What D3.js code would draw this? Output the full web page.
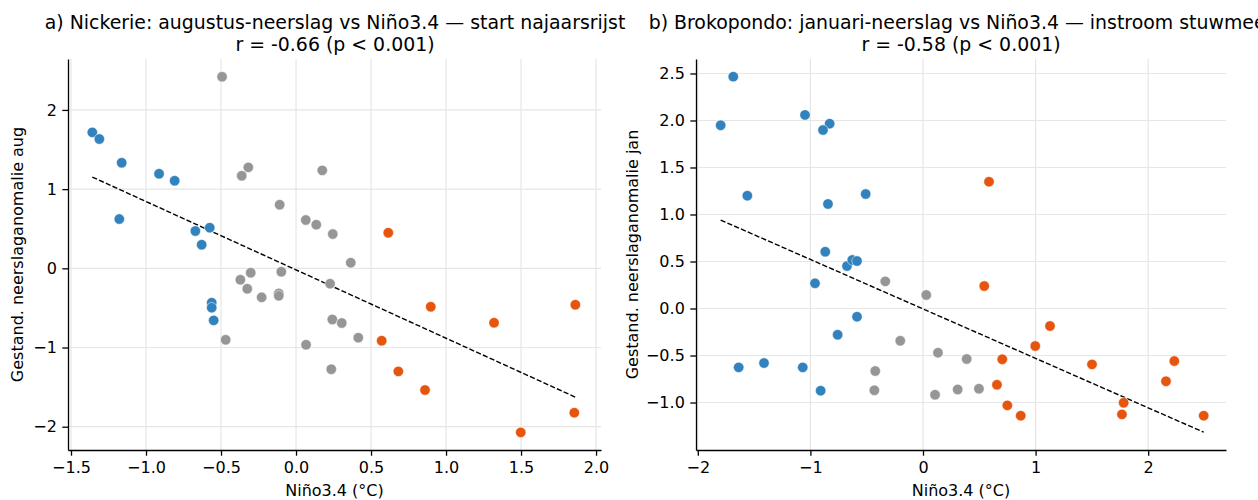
<!DOCTYPE html>
<html>
<head>
<meta charset="utf-8">
<script src="https://cdn.jsdelivr.net/npm/d3@7"></script>
<style>
  body { margin: 0; background: #fff; }
  svg text { font-family: "DejaVu Sans", sans-serif; fill: #000; }
</style>
</head>
<body>
<div id="chart"></div>
<script>
let width = 1258;
let height = 500;

// Panel a) Nickerie, August rainfall vs Nino3.4
let nickNino = [-1.358, -1.311, -1.162, -0.913, -0.809, -1.178, -0.671, -0.575, -0.629, -0.562, -0.562, -0.549,
    -0.493, -0.318, -0.362, 0.175, -0.109, 0.065, 0.135, 0.245, -0.371, -0.302, -0.325, -0.229,
    -0.098, -0.115, -0.115, -0.469, 0.067, 0.227, 0.242, 0.235, 0.365, 0.305, 0.415,
    0.615, 0.898, 0.571, 0.682, 0.860, 1.320, 1.862, 1.855, 1.498];
let nickRain = [1.717, 1.633, 1.333, 1.194, 1.106, 0.622, 0.471, 0.513, 0.298, -0.434, -0.497, -0.657,
    2.419, 1.275, 1.169, 1.237, 0.803, 0.610, 0.551, 0.433, -0.144, -0.056, -0.258, -0.366,
    -0.043, -0.316, -0.346, -0.902, -0.965, -0.194, -0.646, -1.274, 0.071, -0.691, -0.876,
    0.449, -0.485, -0.914, -1.301, -1.537, -0.687, -0.460, -1.823, -2.071];

// Panel b) Brokopondo, January rainfall vs Nino3.4
let brokNino = [-1.685, -1.797, -1.048, -0.829, -0.888, -1.560, -0.844, -0.509, -0.868, -0.675, -0.628, -0.586,
    -0.959, -0.586, -0.758, -1.637, -1.412, -1.068, -0.909,
    -0.335, 0.029, -0.202, 0.133, -0.424, -0.432, 0.107, 0.308, 0.388, 0.497,
    0.586, 0.544, 1.128, 0.997, 0.704, 0.657, 0.749, 0.868, 1.501, 1.782, 1.767, 2.232, 2.158, 2.493];
let brokRain = [2.466, 1.949, 2.059, 1.966, 1.899, 1.200, 1.112, 1.218, 0.604, 0.452, 0.516, 0.505,
    0.268, -0.087, -0.279, -0.626, -0.580, -0.626, -0.874,
    0.289, 0.144, -0.343, -0.470, -0.665, -0.870, -0.917, -0.861, -0.537, -0.853,
    1.349, 0.239, -0.186, -0.399, -0.540, -0.811, -1.030, -1.140, -0.594, -1.002, -1.126, -0.559, -0.774, -1.140];

let titles = [
    ["a) Nickerie: augustus-neerslag vs Niño3.4 — start najaarsrijst", "r = -0.66 (p < 0.001)"],
    ["b) Brokopondo: januari-neerslag vs Niño3.4 — instroom stuwmeer", "r = -0.58 (p < 0.001)"]
];
let yLabels = ["Gestand. neerslaganomalie aug", "Gestand. neerslaganomalie jan"];
let xLabel = "Niño3.4 (°C)";

let nickXTicks = [-1.5, -1.0, -0.5, 0.0, 0.5, 1.0, 1.5, 2.0];
let nickYTicks = [-2, -1, 0, 1, 2];
let brokXTicks = [-2, -1, 0, 1, 2];
let brokYTicks = [-1.0, -0.5, 0.0, 0.5, 1.0, 1.5, 2.0, 2.5];

// phase colours: La Nina / neutral / El Nino
let phaseColor = d3.scaleThreshold()
    .domain([-0.5, 0.5])
    .range(["#3182bd", "#969696", "#e6550d"]);

let minus = s => s.replace("-", "\u2212");

let svg = d3.select("#chart")
    .append("svg")
    .attr("width", width)
    .attr("height", height);

let panels = [
    {xs: nickNino, ys: nickRain, xDom: [-1.52, 2.033], yDom: [-2.294, 2.643],
     xr: [68, 601], yr: [450, 59], xt: nickXTicks, yt: nickYTicks, xf: ".1f", yf: "d",
     titleX: 335, ylabX: 23},
    {xs: brokNino, ys: brokRain, xDom: [-2.016, 2.691], yDom: [-1.505, 2.654],
     xr: [696, 1226], yr: [450, 59], xt: brokXTicks, yt: brokYTicks, xf: "d", yf: ".1f",
     titleX: 961, ylabX: 638}
];

panels.forEach(function(p, i) {
    let x = d3.scaleLinear().domain(p.xDom).range(p.xr);
    let y = d3.scaleLinear().domain(p.yDom).range(p.yr);
    let g = svg.append("g");

    // grid
    g.selectAll(".gx").data(p.xt).enter().append("line")
        .attr("x1", d => x(d)).attr("x2", d => x(d))
        .attr("y1", p.yr[0]).attr("y2", p.yr[1])
        .attr("stroke", "#e6e6e6").attr("stroke-width", 1.2);
    g.selectAll(".gy").data(p.yt).enter().append("line")
        .attr("x1", p.xr[0]).attr("x2", p.xr[1])
        .attr("y1", d => y(d)).attr("y2", d => y(d))
        .attr("stroke", "#e6e6e6").attr("stroke-width", 1.2);

    // axes
    let xAxis = d3.axisBottom(x).tickValues(p.xt).tickSizeInner(5.7).tickSizeOuter(0)
        .tickPadding(5.5).tickFormat(d => minus(d3.format(p.xf)(d)));
    let yAxis = d3.axisLeft(y).tickValues(p.yt).tickSizeInner(5.7).tickSizeOuter(0)
        .tickPadding(5.5).tickFormat(d => minus(d3.format(p.yf)(d)));

    let gx = g.append("g").attr("transform", "translate(0," + p.yr[0] + ")").call(xAxis);
    let gy = g.append("g").attr("transform", "translate(" + p.xr[0] + ",0)").call(yAxis);
    [gx, gy].forEach(a => {
        a.select(".domain").attr("stroke", "#000").attr("stroke-width", 1.3);
        a.selectAll(".tick line").attr("stroke", "#000").attr("stroke-width", 1.3);
        a.selectAll(".tick text").style("font-family", "DejaVu Sans").style("font-size", "16px").attr("fill", "#000");
    });

    // regression line (least squares on the points)
    let mx = d3.mean(p.xs), my = d3.mean(p.ys);
    let sxy = d3.sum(p.xs, (v, k) => (v - mx) * (p.ys[k] - my));
    let sxx = d3.sum(p.xs, v => (v - mx) * (v - mx));
    let slope = sxy / sxx, icpt = my - slope * mx;
    let ext = d3.extent(p.xs);
    g.append("line")
        .attr("x1", x(ext[0])).attr("y1", y(icpt + slope * ext[0]))
        .attr("x2", x(ext[1])).attr("y2", y(icpt + slope * ext[1]))
        .attr("stroke", "#000").attr("stroke-width", 1.4)
        .attr("stroke-dasharray", "5.2,2.2");

    // points
    g.selectAll("circle").data(p.xs).enter().append("circle")
        .attr("cx", d => x(d))
        .attr("cy", (d, k) => y(p.ys[k]))
        .attr("r", 5.2)
        .attr("fill", d => phaseColor(d))
        .attr("stroke", "#fff").attr("stroke-width", 0.5);

    // titles
    svg.append("text").attr("x", p.titleX).attr("y", 29)
        .attr("text-anchor", "middle").style("font-size", "18.9px").text(titles[i][0]);
    svg.append("text").attr("x", p.titleX).attr("y", 51)
        .attr("text-anchor", "middle").style("font-size", "18.9px").text(titles[i][1]);

    // axis labels
    svg.append("text").attr("x", (p.xr[0] + p.xr[1]) / 2).attr("y", 496)
        .attr("text-anchor", "middle").style("font-size", "16px").text(xLabel);
    svg.append("text")
        .attr("transform", "translate(" + p.ylabX + "," + ((p.yr[0] + p.yr[1]) / 2) + ") rotate(-90)")
        .attr("text-anchor", "middle").style("font-size", "16px").text(yLabels[i]);
});
</script>
</body>
</html>
